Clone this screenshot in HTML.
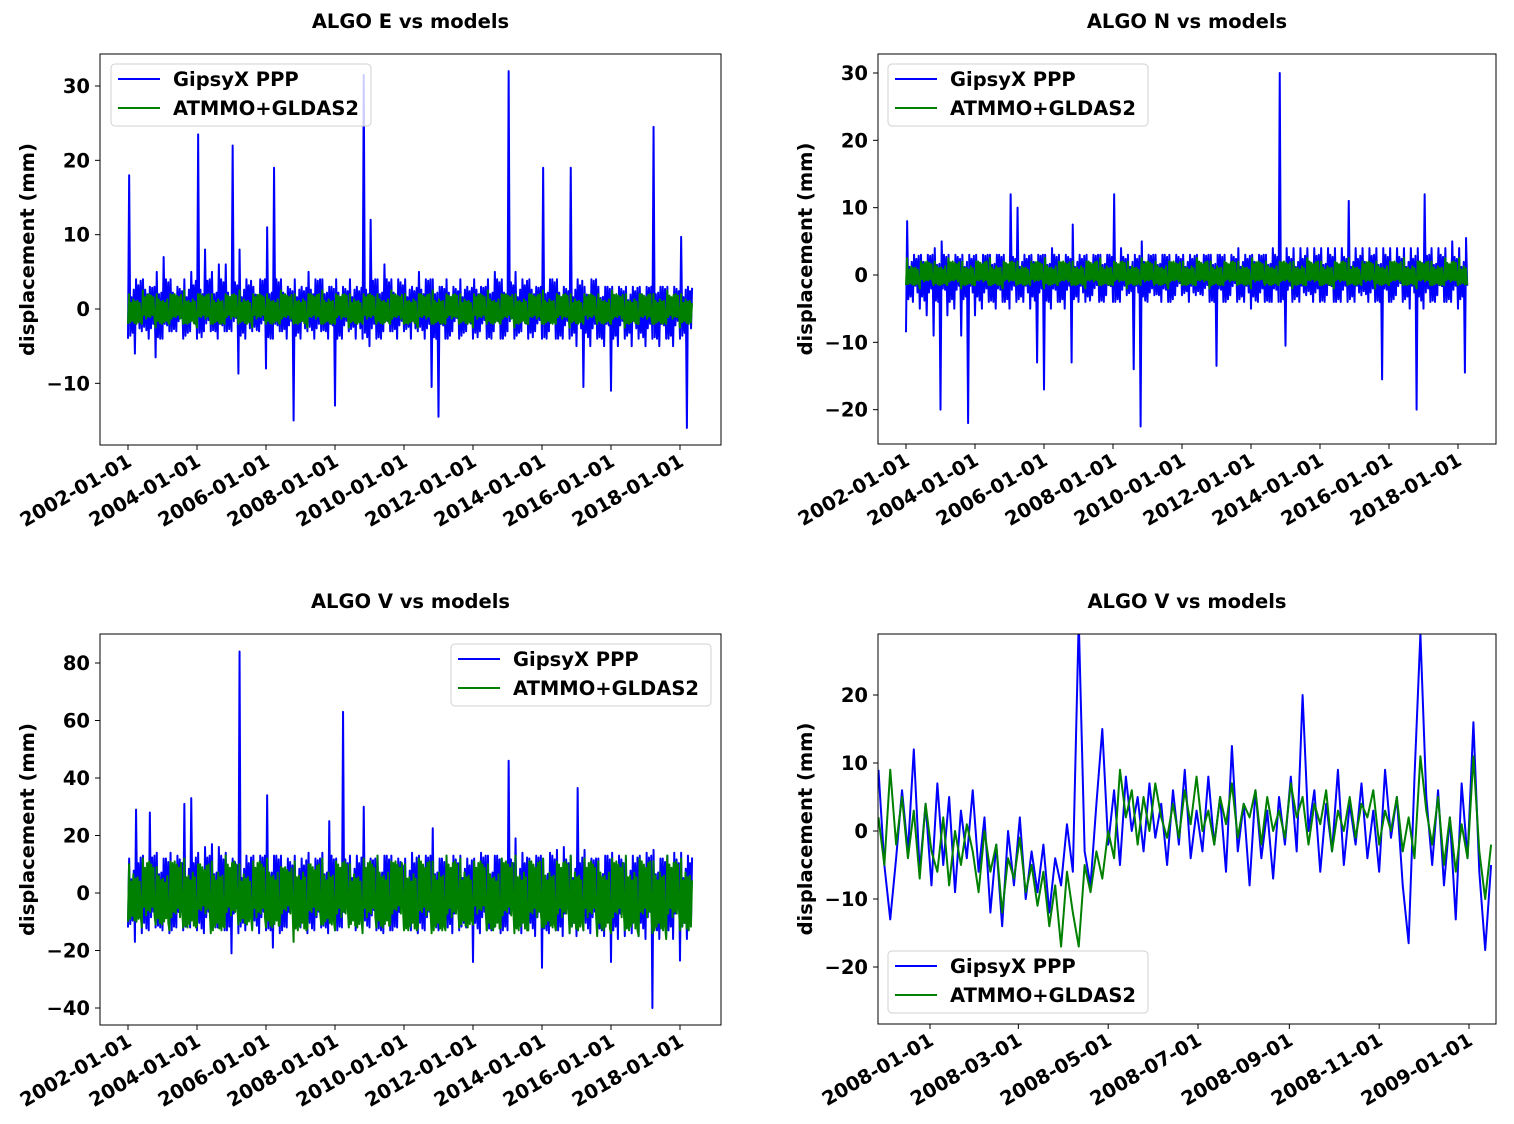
<!DOCTYPE html>
<html><head><meta charset="utf-8"><style>
html,body{margin:0;padding:0;background:#fff;}
svg{display:block;font-family:"DejaVu Sans","Liberation Sans",sans-serif;font-weight:bold;}
</style></head><body>
<svg id="fig" width="1514" height="1124" viewBox="0 0 1514 1124" xmlns="http://www.w3.org/2000/svg"></svg>
<script>
// ---------- DATA ----------
const eBlueHi=[18,4,4,3,5,7,4,3,4,5,23.5,8,5,6,6,22,8,4,3,4,11,19,4,3,4,3,5,4,4,3,4,3,4,3,31.5,12,4,6,4,4,4,3,5,4,4,3,4,3,4,3,4,3,4,5,4,32,5,4,4,3,19,4,4,3,19,4,3,4,3,3,3,3,3,3,3,3,24.5,3,3,3,9.7,3,3];
const eBlueLo=[-4,-6,-3,-4,-6.5,-4,-3,-3,-4,-3,-4,-3,-3,-4,-3,-3,-8.7,-4,-3,-3,-8,-4,-3,-4,-15,-4,-3,-4,-3,-4,-13,-4,-3,-4,-4,-5,-4,-3,-3,-4,-3,-4,-3,-4,-10.5,-14.5,-4,-3,-4,-3,-4,-3,-4,-3,-4,-3,-4,-3,-4,-3,-4,-3,-4,-4,-4,-5,-10.5,-5,-4,-5,-11,-5,-4,-5,-4,-5,-4,-5,-4,-5,-4,-16,-5];
const eGreenHi=[2,2.5,2,2,2.5,2,2,2,2.5,2,2,2.5,2,2,2.5,2,2,2,2,2.5,2,2,2.5,2,2,2,2.5,2,2,2,2.5,2,2,2,2,2.5,2,2,2,2.5,2,2];
const eGreenLo=[-2,-2,-2.5,-2,-2,-2.5,-2,-2,-2,-2.5,-2,-2,-2,-2.5,-2,-2,-2.5,-2,-2,-2,-2,-2.5,-2,-2,-2,-2.5,-2,-2,-2.5,-2,-2,-2,-2.5,-2,-2,-2,-2.5,-2,-2,-2,-2.5,-2];
const nBlueHi=[8,3,3,3,4,5,3,3,3,3,3,3,3,3,3,12,10,3,3,3,3,4,3,3,7.5,3,3,3,3,3,12,4,3,3,5,3,3,3,3,3,3,3,3,3,3,3,3,3,4,3,3,3,3,4,30,4,4,4,4,4,4,4,4,4,11,4,4,4,4,4,4,4,4,4,4,12,4,4,4,5,4,5.5];
const nBlueLo=[-8.5,-4,-5,-6,-9,-20,-6,-5,-9,-22,-6,-5,-4,-5,-4,-5,-4,-4,-5,-13,-17,-5,-4,-5,-13,-4,-4,-3,-4,-3,-4,-4,-3,-14,-22.5,-4,-3,-4,-4,-3,-3,-4,-3,-3,-4,-13.5,-4,-3,-4,-4,-5,-4,-4,-4,-4,-10.5,-4,-4,-3,-4,-4,-3,-4,-4,-4,-4,-3,-4,-4,-15.5,-4,-3,-4,-5,-20,-5,-4,-3,-4,-4,-5,-14.5];
const nGreenHi=[2.5,2,2,2.5,2,2,2.5,2,2,2,2.5,2,2,2,2.5,2,2,2.5,2,2,2,2.5,2,2,2,2.5,2,2,2,2.5,2,2,2.5,2,2,2,2.5,2,2,2.5,2.5];
const nGreenLo=[-1.5,-2,-1.5,-1.5,-2,-1.5,-1.5,-2,-1.5,-1.5,-2,-1.5,-1.5,-2,-1.5,-1.5,-2,-1.5,-1.5,-2,-1.5,-1.5,-2,-1.5,-1.5,-2,-1.5,-1.5,-2,-1.5,-1.5,-2,-1.5,-1.5,-2,-1.5,-1.5,-2,-1.5,-1.5,-1.5];
const vBlueHi=[12,29,13,28,14,12,14,13,31,33,14,16,17,16,14,12,84,13,13,13,34,13,13,12,13,12,14,12,14,25,12,63,13,13,30,12,13,13,13,12,12,14,13,13,22.5,12,13,13,13,12,12,14,13,13,12,46,19,14,12,13,12,14,15,16,13,36.5,15,12,12,13,14,13,12,13,13,14,15,12,13,14,14,13,12];
const vBlueLo=[-12,-17,-14,-13,-12,-13,-14,-12,-13,-12,-13,-14,-12,-12,-13,-21,-14,-13,-12,-14,-13,-19,-14,-12,-13,-12,-14,-13,-12,-14,-13,-12,-11,-13,-12,-12,-13,-14,-13,-12,-12,-13,-14,-13,-12,-13,-12,-14,-13,-12,-24,-14,-13,-12,-14,-13,-12,-14,-13,-15,-26,-14,-13,-15,-14,-15,-13,-14,-14,-15,-24,-16,-15,-14,-15,-16,-40,-16,-15,-16,-23.5,-16,-15];
const vGreenHi=[10,12,9,11,12,10,11,13,10,11,12,9,11,10,12,11,10,12,13,11,10,12,11,13,12,11,10,12,13,11,12,11,13,12,11,12,13,12,11,13,12,10];
const vGreenLo=[-10,-12,-11,-13,-12,-11,-14,-12,-11,-13,-12,-11,-17,-12,-11,-13,-12,-14,-12,-11,-13,-12,-14,-13,-12,-11,-13,-12,-14,-13,-12,-13,-14,-13,-15,-14,-13,-15,-14,-16,-13,-12];
const zBlue=[9,-5,-13,-4,6,-3,12,-6,4,-8,7,-5,5,-9,3,-4,6,-6,2,-12,-2,-14,0,-8,2,-10,-3,-9,-2,-12,-4,-8,1,-6,31,-3,-8,4,15,-2,6,-5,8,0,5,-3,7,-1,4,-5,6,-2,9,-4,3,-3,8,-2,5,-6,12.5,-3,4,-8,6,-4,3,-7,5,-2,8,-3,20,0,6,-6,4,-3,9,-5,4,-2,7,-4,3,-6,9,-1,5,-8,-16.5,8,29,5,-5,6,-8,2,-13,7,-4,16,-6,-17.5,-5];
const zGreen=[2,-5,9,-2,5,-4,3,-7,4,-3,-6,2,-8,0,-5,1,-3,-9,0,-6,-2,-12,-4,-7,-1,-9,-5,-11,-6,-14,-8,-17,-6,-12,-17,-5,-9,-3,-7,0,-4,9,2,6,-2,5,0,7,2,-1,4,-1,6,1,8,0,3,-2,5,1,7,-1,4,2,6,-2,5,0,3,-1,7,2,5,-2,4,1,6,-3,3,0,5,-1,4,2,6,-2,3,0,5,-3,2,-4,11,3,-2,5,-5,2,-6,1,-4,11,-3,-10,-2];
const yearTicks=["2002-01-01","2004-01-01","2006-01-01","2008-01-01","2010-01-01","2012-01-01","2014-01-01","2016-01-01","2018-01-01"];
const yearTickVals=[2002,2004,2006,2008,2010,2012,2014,2016,2018];
const zTicks=["2008-01-01","2008-03-01","2008-05-01","2008-07-01","2008-09-01","2008-11-01","2009-01-01"];
const zTickDays=[0,60,121,182,244,305,366];
const eYTicks=[-10,0,10,20,30];
const nYTicks=[-20,-10,0,10,20,30];
const vYTicks=[-40,-20,0,20,40,60,80];
const zYTicks=[-20,-10,0,10,20];

// ---------- DRAW ----------
const NS="http://www.w3.org/2000/svg";
const svg=document.getElementById('fig');
function mk(tag,attrs,parent){const e=document.createElementNS(NS,tag);for(const k in attrs)e.setAttribute(k,attrs[k]);(parent||svg).appendChild(e);return e;}
function lin(d0,d1,r0,r1){return v=>r0+(v-d0)*(r1-r0)/(d1-d0);}
function fmt(v){return v<0?"\u2212"+Math.abs(v):String(v);}
const pattern=[1,0.55,0.9,0.4,0.8,0.65,0.95,0.5];
function median(a){const s=[...a].sort((p,q)=>p-q);return s[Math.floor(s.length/2)];}
function bandPath(hi,lo,start,step,end,xs,ys){
  const tHi=median(hi),tLo=median(lo);let d="";
  for(let i=0;i<hi.length;i++){
    const t0=start+i*step; if(t0>end)break;
    const t1=Math.min(end,t0+step);
    const x0=xs(t0),x1=xs(t1),w=x1-x0;
    const n=Math.max(2,Math.round(w/1.1));
    for(let k=0;k<n;k++){
      const x=x0+w*k/n;let v;
      if(k===0)v=lo[i];else if(k===1)v=hi[i];
      else{const f=pattern[(k+i)%pattern.length];v=(k%2===0)?Math.max(lo[i],tLo)*f:Math.min(hi[i],tHi)*f;}
      d+=(d?"L":"M")+x.toFixed(2)+","+ys(v).toFixed(2);
    }
  }
  return d;
}
let clipId=0;
function panel(c){
  const g=mk('g',{});
  
  
  const t=mk('text',{x:(c.L+c.R)/2,y:c.T-26,'text-anchor':'middle','font-size':19.5},g);
  t.textContent=c.title;
  
  
  const yl=mk('text',{x:0,y:0,'text-anchor':'middle','font-size':19.5,transform:`translate(${c.L-66},${(c.T+c.B)/2}) rotate(-90)`},g);
  yl.textContent="displacement (mm)";
  
  
  const id='clip'+(clipId++);
  const cp=mk('clipPath',{id:id},g);mk('rect',{x:c.L,y:c.T,width:c.R-c.L,height:c.B-c.T},cp);
  const series=mk('g',{'clip-path':`url(#${id})`},g);
  
  
  c.series.forEach(s=>{
    const p=mk('path',{d:s.d,fill:'none',stroke:s.color,'stroke-width':2,'stroke-linejoin':'round'},series);
    
    
  });
  const fr=mk('rect',{x:c.L,y:c.T,width:c.R-c.L,height:c.B-c.T,fill:'none',stroke:'#000','stroke-width':1},g);
  
  
  c.yTicks.forEach(v=>{
    const y=c.ys(v);
    mk('line',{x1:c.L-5,x2:c.L,y1:y,y2:y,stroke:'#000'},g);
    const tx=mk('text',{x:c.L-10,y:y+7,'text-anchor':'end','font-size':19.5},g);
    tx.textContent=fmt(v);
    
    
  });
  c.xTickVals.forEach((v,i)=>{
    const x=c.xs(v);
    mk('line',{x1:x,x2:x,y1:c.B,y2:c.B+5,stroke:'#000'},g);
    const tx=mk('text',{x:x+5,y:c.B+20,'text-anchor':'end','font-size':19.5,transform:`rotate(-30,${x+5},${c.B+20})`},g);
    tx.textContent=c.xTicks[i];
    
    
  });
  const lg=mk('g',{},g);
  
  
  mk('rect',{x:c.legX,y:c.legY,width:260,height:62,rx:4,fill:'rgba(255,255,255,0.8)',stroke:'#d0d0d0'},lg);
  [["GipsyX PPP","#0000ff"],["ATMMO+GLDAS2","#008000"]].forEach((e,i)=>{
    const yy=c.legY+15+i*29;
    mk('line',{x1:c.legX+7,x2:c.legX+49,y1:yy,y2:yy,stroke:e[1],'stroke-width':2},lg);
    const tx=mk('text',{x:c.legX+62,y:yy+7,'font-size':19.5},lg);
    tx.textContent=e[0];
    
    
  });
}
const END=2018.38;
{const xs=lin(2002,2018,128,680),ys=lin(0,30,309,86);
panel({name:'panel-algo-e',title:'ALGO E vs models',L:100,R:721,T:54,B:445,xs,ys,yTicks:eYTicks,xTicks:yearTicks,xTickVals:yearTickVals,legX:111,legY:64,
series:[{name:'gipsyx-ppp-line',color:'#0000ff',d:bandPath(eBlueHi,eBlueLo,2002,0.2,END,xs,ys)},{name:'atmmo-gldas2-line',color:'#008000',d:bandPath(eGreenHi,eGreenLo,2002,0.4,END,xs,ys)}]});}
{const xs=lin(2002,2018,906,1458),ys=lin(0,30,275,73);
panel({name:'panel-algo-n',title:'ALGO N vs models',L:878,R:1496,T:54,B:444,xs,ys,yTicks:nYTicks,xTicks:yearTicks,xTickVals:yearTickVals,legX:888,legY:64,
series:[{name:'gipsyx-ppp-line',color:'#0000ff',d:bandPath(nBlueHi,nBlueLo,2002,0.2,2018.3,xs,ys)},{name:'atmmo-gldas2-line',color:'#008000',d:bandPath(nGreenHi,nGreenLo,2002,0.4,2018.3,xs,ys)}]});}
{const xs=lin(2002,2018,128,680),ys=lin(0,80,893,663);
panel({name:'panel-algo-v',title:'ALGO V vs models',L:100,R:721,T:634,B:1025,xs,ys,yTicks:vYTicks,xTicks:yearTicks,xTickVals:yearTickVals,legX:451,legY:644,
series:[{name:'gipsyx-ppp-line',color:'#0000ff',d:bandPath(vBlueHi,vBlueLo,2002,0.2,END,xs,ys)},{name:'atmmo-gldas2-line',color:'#008000',d:bandPath(vGreenHi,vGreenLo,2002,0.4,END,xs,ys)}]});}
{const xs=lin(0,366,930,1469),ys=lin(0,20,831,695);
const line=arr=>arr.map((v,i)=>(i?"L":"M")+xs(-35+4*i).toFixed(2)+","+ys(v).toFixed(2)).join("");
panel({name:'panel-algo-v-2008',title:'ALGO V vs models',L:878,R:1496,T:634,B:1024,xs,ys,yTicks:zYTicks,xTicks:zTicks,xTickVals:zTickDays,legX:888,legY:951,
series:[{name:'gipsyx-ppp-line',color:'#0000ff',d:line(zBlue)},{name:'atmmo-gldas2-line',color:'#008000',d:line(zGreen)}]});}
</script>
</body></html>
